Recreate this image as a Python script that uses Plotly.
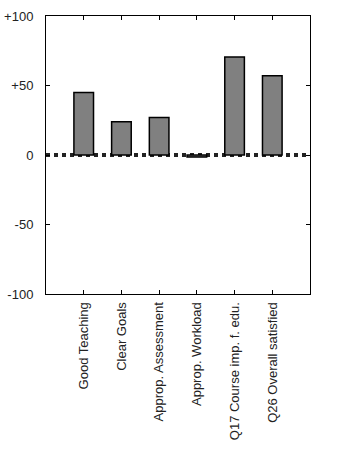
import plotly.graph_objects as go

categories = ["Good Teaching", "Clear Goals", "Approp. Assessment", "Approp. Workload",
              "Q17 Course imp. f. edu.", "Q26 Overall satisfied"]
values = [45, 24, 27, -1.5, 70.5, 57]
y_ticks = [-100, -50, 0, 50, 100]
y_tick_labels = ["-100", "-50", "0", "+50", "+100"]

fig = go.Figure()
fig.add_trace(go.Bar(
    x=categories, y=values, width=0.52,
    marker=dict(color="#808080", line=dict(color="#000000", width=1.5)),
))
fig.add_shape(type="line", xref="paper", x0=0, x1=1, yref="y", y0=0, y1=0,
              line=dict(color="#222222", width=4, dash="4px,4px"), layer="below")

fig.update_layout(
    width=354, height=472,
    margin=dict(l=46, r=44, t=16, b=178),
    plot_bgcolor="white", paper_bgcolor="white",
    font=dict(family="Liberation Sans, Arial, sans-serif", size=13, color="#222222"),
    showlegend=False,
    xaxis=dict(range=[-1, 6], tickangle=-90, ticklabelstandoff=2, automargin=False,
               showline=True, linecolor="#000000", linewidth=1, mirror="ticks",
               ticks="inside", ticklen=4, tickcolor="#000000", showgrid=False,
               zeroline=False),
    yaxis=dict(range=[-100, 100], tickvals=y_ticks, ticktext=y_tick_labels,
               ticklabelstandoff=9, automargin=False,
               showline=True, linecolor="#000000", linewidth=1, mirror="ticks",
               ticks="inside", ticklen=4, tickcolor="#000000",
               showgrid=False, zeroline=False),
)
fig.write_html("out.html")
